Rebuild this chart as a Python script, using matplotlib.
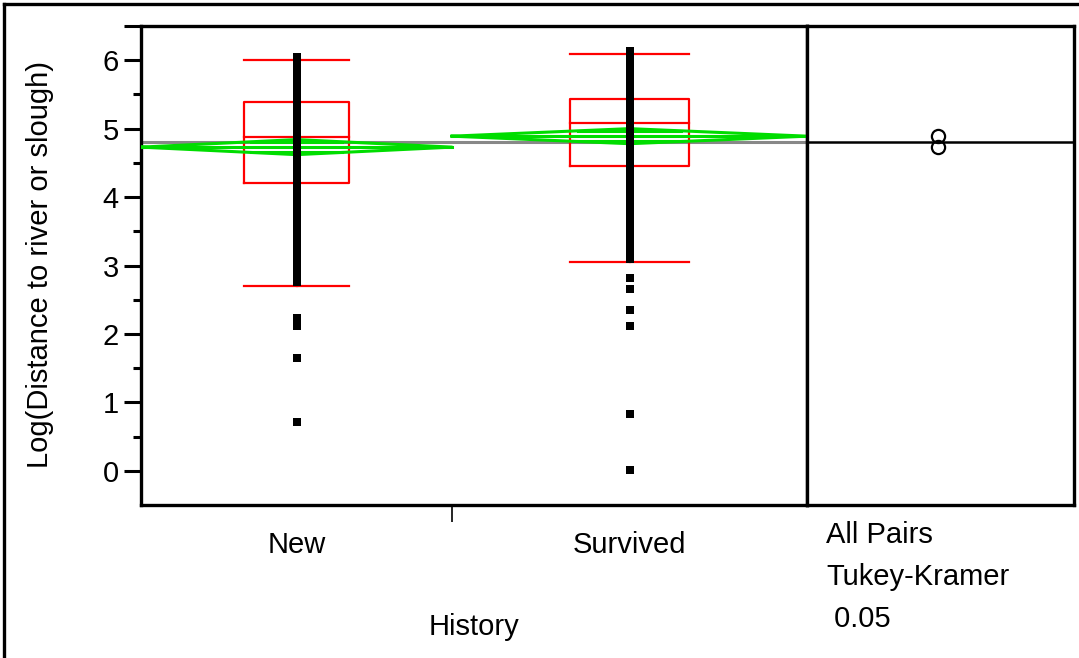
import matplotlib.pyplot as plt
import numpy as np

plt.rcParams['font.family'] = ['Liberation Sans', 'DejaVu Sans']

# groups and summary values
groups = ['New', 'Survived']
whisker_lo = [2.70, 3.05]
q1 = [4.21, 4.45]
median = [4.88, 5.08]
q3 = [5.39, 5.43]
whisker_hi = [6.01, 6.09]
means = [4.73, 4.89]
ci_half = [0.11, 0.11]
grand_mean = 4.80

new_points = [6.05, 5.95, 5.85, 5.75, 5.65, 5.55, 5.45, 5.35, 5.25, 5.15,
              5.05, 4.95, 4.85, 4.75, 4.65, 4.55, 4.45, 4.35, 4.25, 4.15,
              4.05, 3.95, 3.85, 3.75, 3.65, 3.55, 3.45, 3.35, 3.25, 3.18,
              3.10, 3.02, 2.92, 2.84, 2.76, 2.24, 2.12, 1.65, 0.72]
survived_points = [6.13, 6.05, 5.95, 5.85, 5.75, 5.65, 5.55, 5.45, 5.35, 5.25,
                   5.15, 5.05, 4.95, 4.85, 4.75, 4.65, 4.55, 4.45, 4.35, 4.25,
                   4.15, 4.05, 3.95, 3.85, 3.75, 3.65, 3.55, 3.45, 3.35, 3.25,
                   3.15, 3.09, 2.82, 2.66, 2.35, 2.12, 0.83, 0.01]
points = [new_points, survived_points]

y_ticks = [0, 1, 2, 3, 4, 5, 6]

# layout (pixels of the 1079x658 picture)
W, H = 1079, 658
fig = plt.figure(figsize=(W / 100, H / 100), dpi=100)


def fx(x):
    return x / W


def fy(y):
    return 1 - y / H


left, right, mid, top, bottom = 141, 1074, 807, 26, 505
ax = fig.add_axes([fx(left), fy(bottom), (mid - left) / W, (bottom - top) / H])
ax2 = fig.add_axes([fx(mid), fy(bottom), (right - mid) / W, (bottom - top) / H])

# group widths in the x range 0..1 (JMP scales them by group size)
edges = [0.0, 0.467, 1.0]
box_frac = 0.335

green = '#00dd00'
red = '#ff0000'
fs = 21

ax.axhline(grand_mean, color='#888888', lw=2.2, zorder=1)

for i in range(2):
    a, b = edges[i], edges[i + 1]
    c = (a + b) / 2
    hw = (b - a) * box_frac / 2
    # box
    ax.plot([c - hw, c + hw, c + hw, c - hw, c - hw],
            [q1[i], q1[i], q3[i], q3[i], q1[i]], color=red, lw=1.6, zorder=2)
    ax.plot([c - hw, c + hw], [median[i]] * 2, color=red, lw=1.6, zorder=2)
    ax.plot([c, c], [q3[i], whisker_hi[i]], color=red, lw=1.6, zorder=2)
    ax.plot([c, c], [q1[i], whisker_lo[i]], color=red, lw=1.6, zorder=2)
    ax.plot([c - hw, c + hw], [whisker_hi[i]] * 2, color=red, lw=1.6, zorder=2)
    ax.plot([c - hw, c + hw], [whisker_lo[i]] * 2, color=red, lw=1.6, zorder=2)
    # means diamond
    m, h = means[i], ci_half[i]
    ax.plot([a, c, b, c, a], [m, m + h, m, m - h, m], color=green, lw=2.2, zorder=3)
    ax.plot([a, b], [m, m], color=green, lw=2.2, zorder=3)
    ov = h / np.sqrt(2)
    ow = (b - a) / 2 * (1 - 1 / np.sqrt(2))
    for s in (1, -1):
        ax.plot([c - ow, c + ow], [m + s * ov] * 2, color=green, lw=2.2, zorder=3)
    # points
    ax.plot([c] * len(points[i]), points[i], 's', color='black', ms=5.8,
            mew=0, zorder=4)
    ax.text(c, (bottom - 553) / (bottom - top), groups[i], fontsize=fs,
            ha='center', va='baseline', transform=ax.get_xaxis_transform())

ax.set_xlim(0, 1)
ax.set_ylim(-0.5, 6.5)
ax.set_yticks(y_ticks + [6.5], [str(t) for t in y_ticks] + [''])
ax.set_yticks(np.arange(0.5, 6.5, 1), minor=True)
ax.tick_params(axis='y', which='major', length=12.5, width=2.2, labelsize=fs, pad=3.5)
ax.tick_params(axis='y', which='minor', length=6, width=2.2)
ax.set_xticks([edges[1]], [''])
ax.tick_params(axis='x', length=12, width=1.2)
for sp in ax.spines.values():
    sp.set_linewidth(2.4)

# comparison circles panel
ax2.set_xlim(0, 1)
ax2.set_ylim(-0.5, 6.5)
ax2.axhline(grand_mean, color='black', lw=1.8)
ax2.plot([0.49, 0.49], means, 'o', mfc='none', mec='black', ms=9.5, mew=1.6)
ax2.set_xticks([])
ax2.set_yticks([])
for sp in ax2.spines.values():
    sp.set_linewidth(2.4)

fig.text(fx(40), fy(265), 'Log(Distance to river or slough)', rotation=90,
         fontsize=fs, ha='center', va='center')
fig.text(fx(474), fy(635), 'History', fontsize=fs, ha='center', va='baseline')
fig.text(fx(826), fy(543), 'All Pairs', fontsize=fs, ha='left', va='baseline')
fig.text(fx(826), fy(585), 'Tukey-Kramer', fontsize=fs, ha='left', va='baseline')
fig.text(fx(826), fy(627), ' 0.05', fontsize=fs, ha='left', va='baseline')

# outer frame
fig.add_artist(plt.Line2D([fx(4), fx(4)], [0, fy(4)], color='black', lw=2.4))
fig.add_artist(plt.Line2D([fx(4), 1], [fy(4), fy(4)], color='black', lw=2.4))

fig.savefig('out.png', dpi=100)
